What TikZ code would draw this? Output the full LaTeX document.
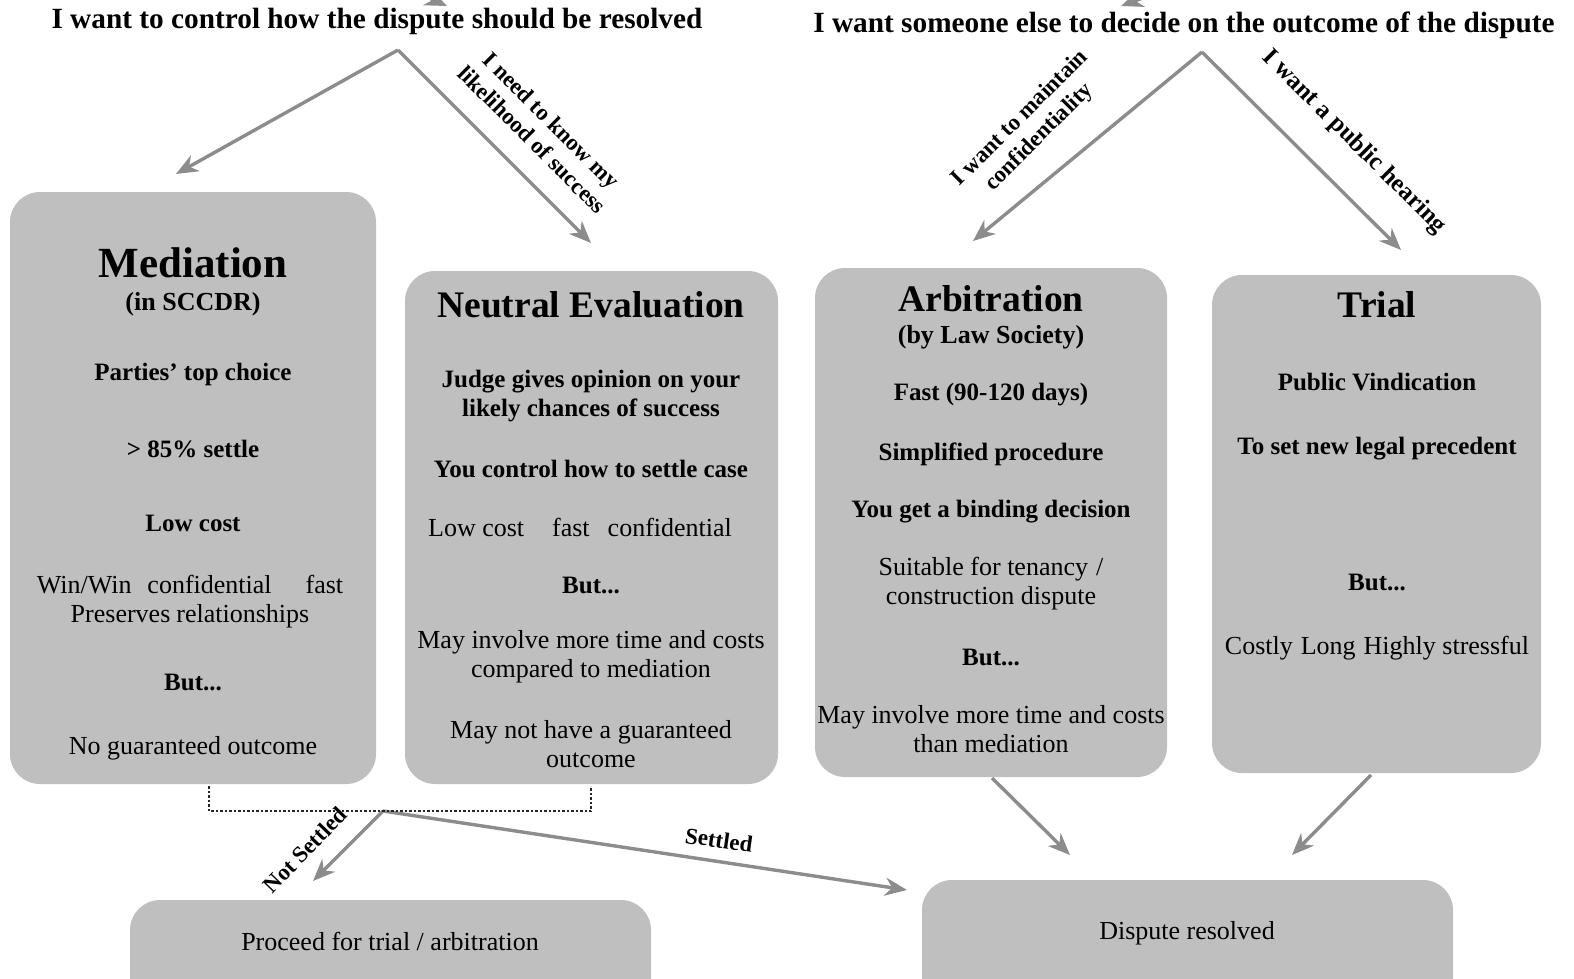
\documentclass[tikz,border=0pt]{standalone}
\usepackage{fontspec}
\setmainfont{Liberation Serif}
\usetikzlibrary{arrows.meta}
\definecolor{boxgray}{RGB}{191,191,191}
\definecolor{arrgray}{RGB}{140,140,140}
\tikzset{
  box/.style={fill=boxgray, rounded corners=30pt, inner sep=0pt, draw=none},
  arr/.style={draw=arrgray, line width=3.4pt, -{Stealth[length=22pt,width=18pt,inset=7pt]}},
  head/.style={font=\fontsize{29.3}{32}\selectfont\bfseries, inner sep=0pt},
  big/.style={font=\fontsize{43}{46}\selectfont\bfseries, inner sep=0pt},
  title/.style={font=\fontsize{37.5}{40}\selectfont\bfseries, inner sep=0pt},
  sub/.style={font=\fontsize{26}{29}\selectfont\bfseries, inner sep=0pt, align=center},
  tb/.style={font=\fontsize{25}{29}\selectfont\bfseries, inner sep=0pt, align=center},
  tr/.style={font=\fontsize{26}{29}\selectfont, inner sep=0pt, align=center},
  lab/.style={font=\fontsize{23}{27}\selectfont\bfseries, inner sep=0pt, align=center},
  dotline/.style={draw=black!85, line width=1.5pt, dash pattern=on 2.5pt off 2pt}
}
\begin{document}
\begin{tikzpicture}[x=1pt,y=-1pt]
\useasboundingbox (0,0) rectangle (1574,979);
\clip (0,0) rectangle (1574,979);
% boxes
\node[box, minimum width=366pt, minimum height=592pt] (med) at (193,488) {};
\node[box, minimum width=373pt, minimum height=513pt] (neu) at (591.5,527.5) {};
\node[box, minimum width=352pt, minimum height=509pt] (arb) at (991,522.5) {};
\node[box, minimum width=329pt, minimum height=498pt] (tri) at (1376.5,524) {};
\node[box, minimum width=521pt, minimum height=110pt] (pro) at (390.5,955) {};
\node[box, minimum width=531pt, minimum height=130pt] (res) at (1187.5,945) {};
% headings
\node[head] (hl) at (377,21) {I want to control how the dispute should be resolved};
\node[head] (hr) at (1184,25) {I want someone else to decide on the outcome of the dispute};
% mediation
\node[big] (m1) at (193,263) {Mediation};
\node[sub] (m2) at (193,304) {(in SCCDR)};
\node[tb] (m3) at (193,374) {Parties' top choice};
\node[tb] (m4) at (193,449) {> 85\% settle};
\node[tb] (m5) at (193,523) {Low cost};
\node[tr] (m6) at (190,602) {Win/Win\hspace{16pt}confidential\hspace{34pt}fast\\Preserves\hspace{6pt}relationships};
\node[tb] (m7) at (193,682) {But...};
\node[tr] (m8) at (193,748) {No guaranteed outcome};
% neutral evaluation
\node[title] (n1) at (591,305) {Neutral Evaluation};
\node[tb] (n2) at (591,396) {Judge gives opinion on your\\likely chances of success};
\node[tb] (n3) at (591,469) {You control how to settle case};
\node[tr] (n4) at (580,527) {Low cost\hspace{28pt}fast\hspace{18pt}confidential};
\node[tb] (n5) at (591,585) {But...};
\node[tr] (n6) at (591,657) {May involve more time and costs\\compared to mediation};
\node[tr] (n7) at (591,744) {May not have a guaranteed\\outcome};
% arbitration
\node[title] (a1) at (991,299) {Arbitration};
\node[sub] (a2) at (991,337) {(by Law Society)};
\node[tb] (a3) at (991,395) {Fast (90-120 days)};
\node[tb] (a4) at (991,454) {Simplified procedure};
\node[tb] (a5) at (991,512) {You get a binding decision};
\node[tr] (a6) at (991,584) {Suitable for tenancy\hspace{8pt}/\\construction dispute};
\node[tb] (a7) at (991,657) {But...};
\node[tr] (a8) at (991,729) {May involve more time and costs\\than mediation};
% trial
\node[title] (t1) at (1377,305) {Trial};
\node[tb] (t2) at (1377,382) {Public Vindication};
\node[tb] (t3) at (1377,449) {To set new legal precedent};
\node[tb] (t4) at (1377,582) {But...};
\node[tr] (t5) at (1377,648) {Costly\hspace{8pt}Long\hspace{8pt}Highly stressful};
% bottom boxes text
\node[tr] (p1) at (390,941) {Proceed for trial / arbitration};
\node[tr] (r1) at (1187,933) {Dispute resolved};
% coordinates
\coordinate (lsplit) at (398,50);
\coordinate (rsplit) at (1202,52);
\coordinate (medin) at (176,174);
\coordinate (neuin) at (591,243);
\coordinate (arbin) at (973,241);
\coordinate (triin) at (1401,250);
\coordinate (arbout) at (992,778);
\coordinate (triout) at (1371,775);
\coordinate (resin1) at (1070,855);
\coordinate (resin2) at (1292,855);
\coordinate (bl) at (209,786);
\coordinate (br) at (591,786);
\coordinate (split) at (383,811);
\coordinate (proin) at (313,881);
\coordinate (resin3) at (907,890);
\coordinate (topl) at (300,-60);
\coordinate (topr) at (1300,-60);
\coordinate (toplend) at (447,6);
\coordinate (toprend) at (1121,6);
% arrows
\draw[arr] (lsplit) -- (medin);
\draw[arr] (lsplit) -- (neuin);
\draw[arr] (rsplit) -- (arbin);
\draw[arr] (rsplit) -- (triin);
\draw[arr] (arbout) -- (resin1);
\draw[arr] (triout) -- (resin2);
\draw[arr] (split) -- (proin);
\draw[arr] (split) -- (resin3);
\draw[arr] (topl) -- (toplend);
\draw[arr] (topr) -- (toprend);
\draw[dotline] (bl) -- (bl |- split) -- (br |- split) -- (br);
% labels
\node[lab, rotate=-45] (l1) at (542,130) {I need to know my\\likelihood of success};
\node[lab, rotate=45] (l2) at (1030,128) {I want to maintain\\confidentiality};
\node[lab, rotate=-45, font=\fontsize{25}{27}\selectfont\bfseries] (l3) at (1354,142) {I want a public hearing};
\node[lab, rotate=46] (l4) at (305,850) {Not Settled};
\node[lab, rotate=-8] (l5) at (719,840) {Settled};
\end{tikzpicture}
\end{document}
